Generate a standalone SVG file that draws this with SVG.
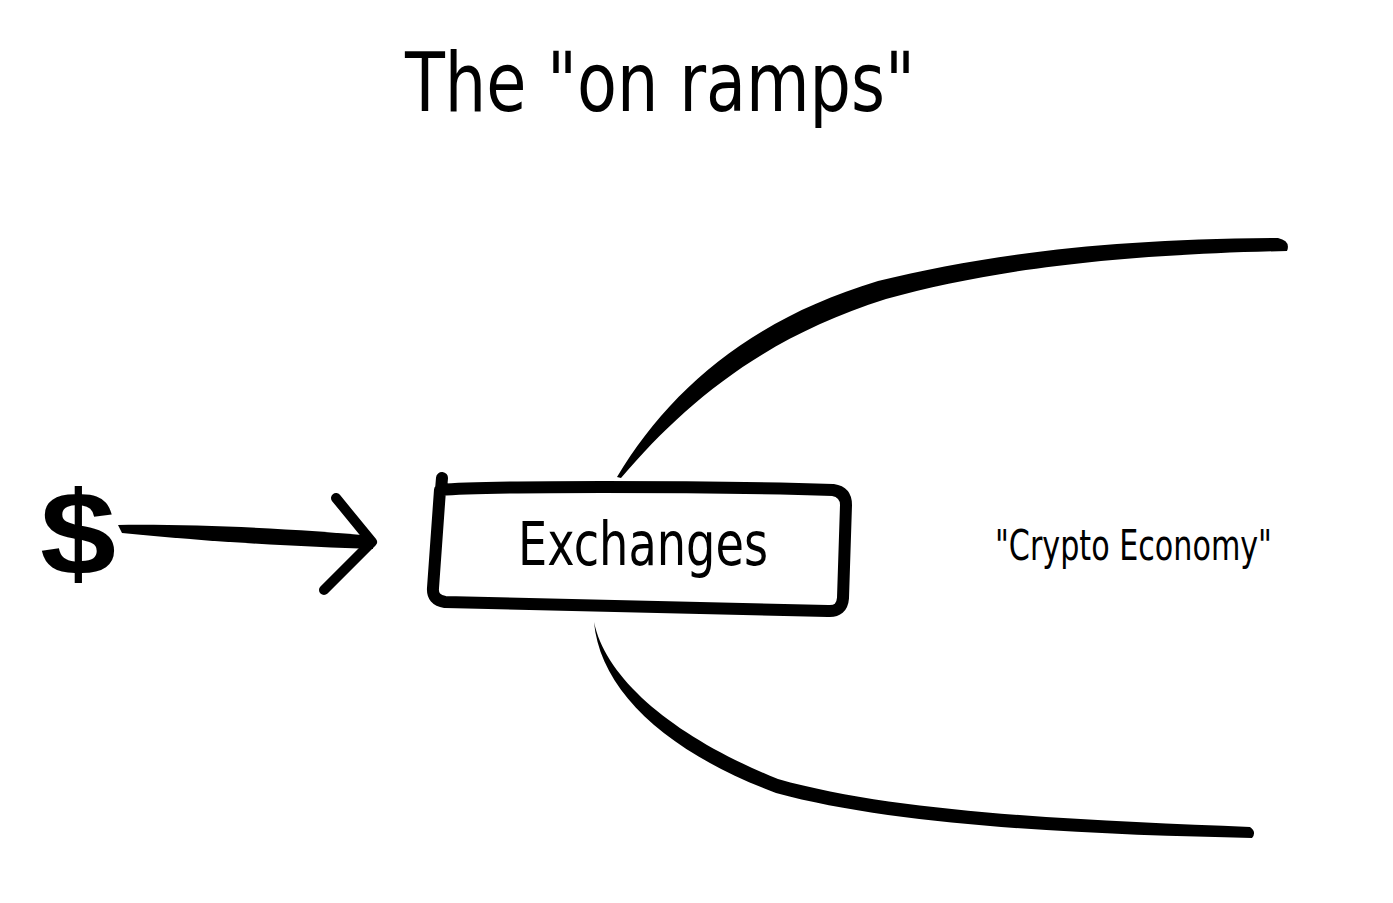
<svg xmlns="http://www.w3.org/2000/svg" width="1393" height="903" viewBox="0 0 1393 903">
<style>
.ink{fill:#000;stroke:none}
.pen{fill:none;stroke:#000;stroke-linecap:round;stroke-linejoin:round}
.hand{font-family:"DejaVu Sans Condensed","DejaVu Sans",sans-serif;fill:#000}
</style>
<rect width="1393" height="903" fill="#fff"/>
<g id="title">
<text class="hand" x="405" y="111" font-size="82" textLength="510" lengthAdjust="spacingAndGlyphs">The "on ramps"</text>
</g>
<g id="dollar">
<text x="40" y="574" font-family="'Liberation Sans',Arial,sans-serif" font-weight="bold" font-size="118" textLength="76" lengthAdjust="spacingAndGlyphs" fill="#000">$</text>
</g>
<g id="exchanges">
<path class="pen" stroke-width="12" d="M442,478 L441,490 C 480,486 700,486 833,490 Q 846,492 846,505 L 843,598 Q 842,612 828,611 C 700,608 520,604 445,602 Q 432,600 433,588 L 440,490"/>
<text class="hand" x="518" y="565" font-size="60" textLength="250" lengthAdjust="spacingAndGlyphs">Exchanges</text>
</g>
<g id="crypto-economy">
<text class="hand" x="995" y="560" font-size="42" textLength="277" lengthAdjust="spacingAndGlyphs">"Crypto Economy"</text>
</g>
<g id="connectors">
<path class="ink" d="M118,525 C 200,524 300,529 372,536 L 373,549 C 300,547 200,541 122,533 Z"/>
<path class="pen" stroke-width="10" d="M336,498 L372,542 L324,590"/>
<path class="ink" d="M617,477 C 668,392 748,320 878,281 C 980,256 1100,239 1278,238 Q 1291,241 1287,251 C 1100,255 985,272 886,299 C 762,338 684,404 621,478 Z"/>
<path class="ink" d="M594,622 C 606,680 676,738 778,779 C 900,814 1100,821 1250,827 Q 1257,832 1252,838 C 1100,835 900,827 776,793 C 666,752 600,690 594,622 Z"/>
</g>
</svg>
